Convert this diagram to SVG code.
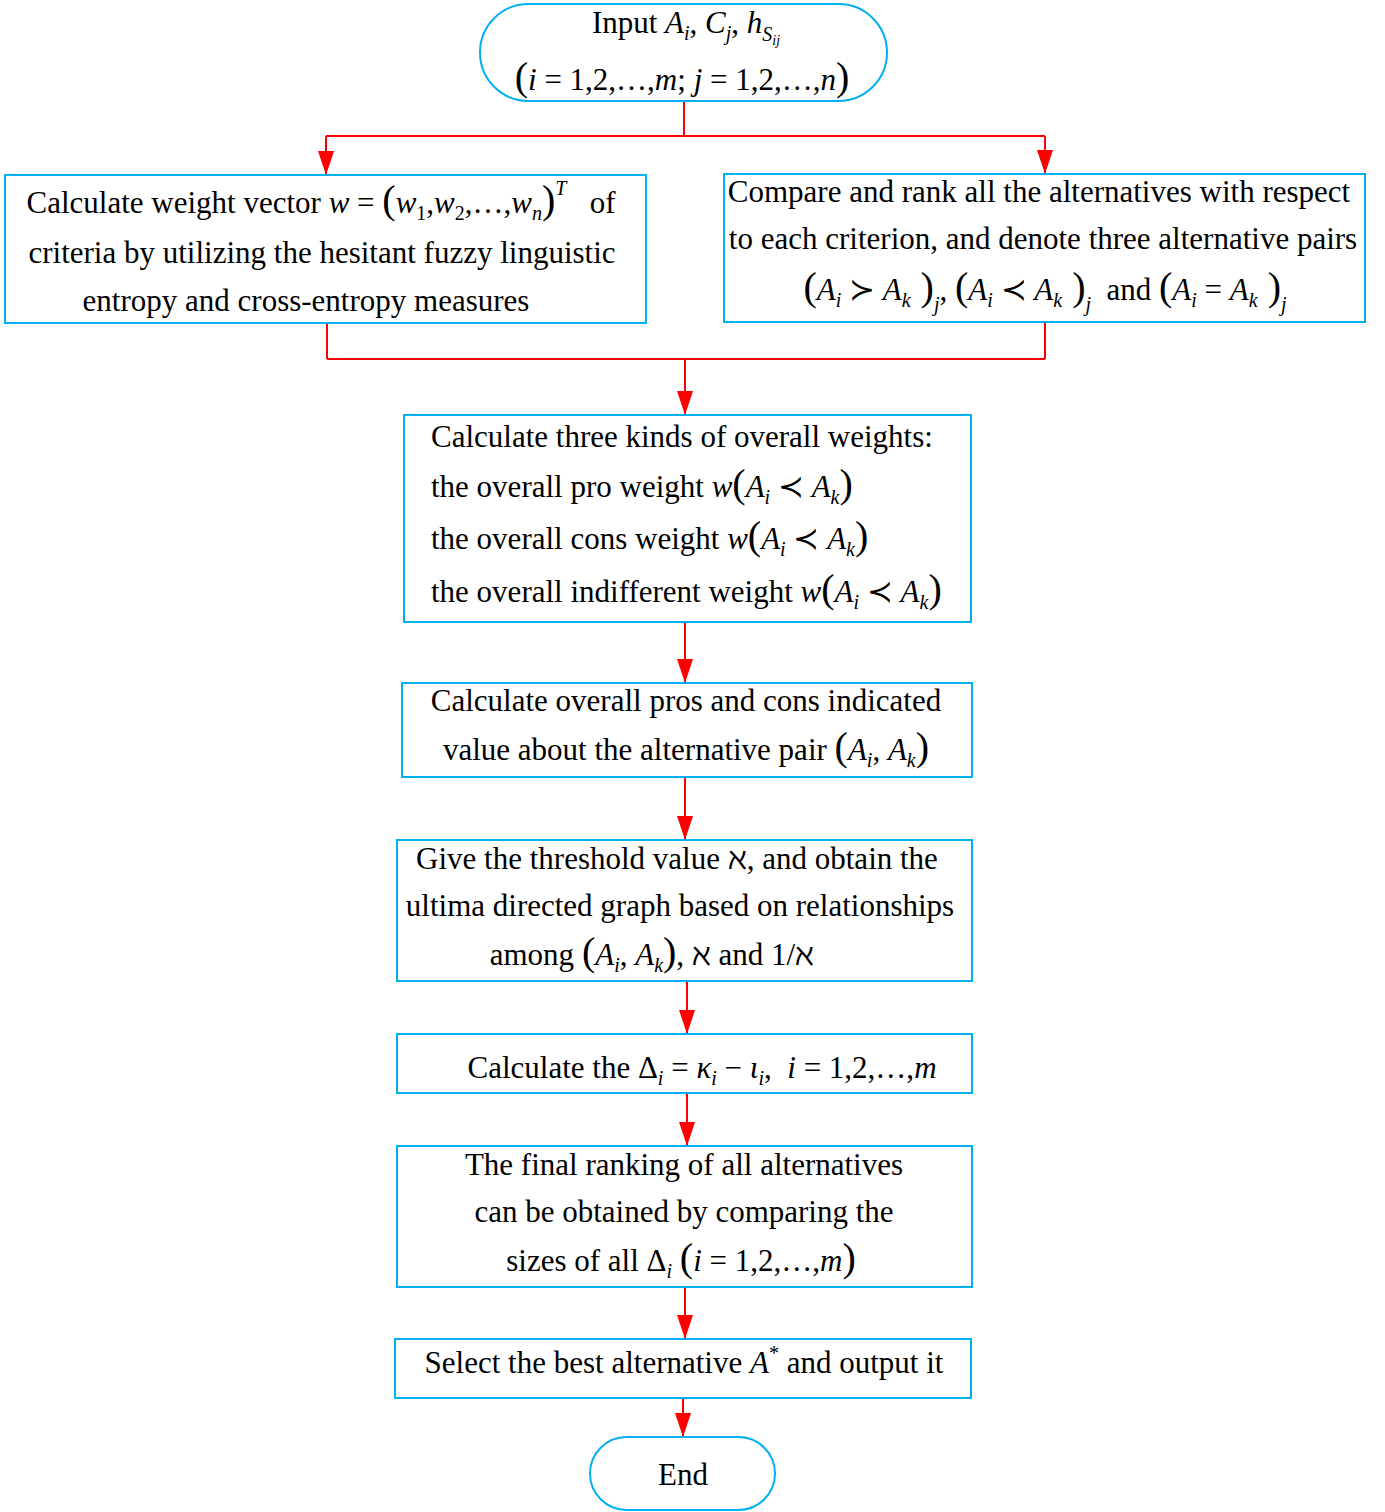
<svg xmlns="http://www.w3.org/2000/svg" width="1385" height="1512" viewBox="0 0 1385 1512">
<style>
.box{fill:#fff;stroke:#00B0F0;stroke-width:2}
.t{font-family:"Liberation Serif","Times New Roman","DejaVu Serif",serif;font-size:31px;fill:#000}
.i{font-style:italic}
.s{font-size:20px}
.ss{font-size:14px}
.p{font-size:40px}
.c{fill:none;stroke:#FF0000;stroke-width:2}
</style>
<defs>
<marker id="ah" viewBox="0 0 24 16" refX="24" refY="8" markerWidth="24" markerHeight="16" markerUnits="userSpaceOnUse" orient="auto">
<path d="M0,0 L24,8 L0,16 z" fill="#FF0000"/>
</marker>
</defs>
<rect width="1385" height="1512" fill="#fff"/>

<g id="connectors">
<path class="c" d="M684,101 V136 M326,136 H1045"/>
<path class="c" d="M326,136 V175" marker-end="url(#ah)"/>
<path class="c" d="M1045,136 V174" marker-end="url(#ah)"/>
<path class="c" d="M327,323 V359 M1045,322 V359 M327,359 H1045"/>
<path class="c" d="M685,359 V415" marker-end="url(#ah)"/>
<path class="c" d="M685,622 V683" marker-end="url(#ah)"/>
<path class="c" d="M685,777 V840" marker-end="url(#ah)"/>
<path class="c" d="M687,981 V1034" marker-end="url(#ah)"/>
<path class="c" d="M687,1093 V1146" marker-end="url(#ah)"/>
<path class="c" d="M685,1287 V1339" marker-end="url(#ah)"/>
<path class="c" d="M683,1398 V1437" marker-end="url(#ah)"/>
</g>

<g id="start">
<rect class="box" x="480" y="4" width="407" height="97" rx="48.5" ry="48.5"/>
<text class="t" x="686" y="33" text-anchor="middle">Input <tspan class="i">A</tspan><tspan class="s i" dy="7">i</tspan><tspan dy="-7">, </tspan><tspan class="i">C</tspan><tspan class="s i" dy="7">j</tspan><tspan dy="-7">, </tspan><tspan class="i">h</tspan><tspan class="s i" dy="8">S</tspan><tspan class="ss i" dy="4">ij</tspan></text>
<text class="t" x="682" y="90" text-anchor="middle"><tspan class="p">(</tspan><tspan class="i">i</tspan> = 1,2,…,<tspan class="i">m</tspan>; <tspan class="i">j</tspan> = 1,2,…,<tspan class="i">n</tspan><tspan class="p">)</tspan></text>
</g>

<g id="weight">
<rect class="box" x="5" y="175" width="641" height="148"/>
<text class="t" x="321" y="213" text-anchor="middle">Calculate weight vector <tspan class="i">w</tspan> = <tspan class="p">(</tspan><tspan class="i">w</tspan><tspan class="s" dy="7">1</tspan><tspan dy="-7">,</tspan><tspan class="i">w</tspan><tspan class="s" dy="7">2</tspan><tspan dy="-7">,…,</tspan><tspan class="i">w</tspan><tspan class="s i" dy="7">n</tspan><tspan class="p" dy="-7">)</tspan><tspan class="s i" dy="-18">T</tspan><tspan dy="18">&#160;&#160; of</tspan></text>
<text class="t" x="322" y="263" text-anchor="middle">criteria by utilizing the hesitant fuzzy linguistic</text>
<text class="t" x="306" y="311" text-anchor="middle">entropy and cross-entropy measures</text>
</g>

<g id="compare">
<rect class="box" x="724" y="174" width="641" height="148"/>
<text class="t" x="1039" y="202" text-anchor="middle">Compare and rank all the alternatives with respect</text>
<text class="t" x="1043" y="249" text-anchor="middle">to each criterion, and denote three alternative pairs</text>
<text class="t" x="1045" y="300" text-anchor="middle"><tspan class="p">(</tspan><tspan class="i">A</tspan><tspan class="s i" dy="7">i</tspan><tspan dy="-7"> ≻ </tspan><tspan class="i">A</tspan><tspan class="s i" dy="7">k</tspan><tspan class="p" dy="-7"> )</tspan><tspan class="s i" dy="11">j</tspan><tspan dy="-11">, </tspan><tspan class="p">(</tspan><tspan class="i">A</tspan><tspan class="s i" dy="7">i</tspan><tspan dy="-7"> ≺ </tspan><tspan class="i">A</tspan><tspan class="s i" dy="7">k</tspan><tspan class="p" dy="-7"> )</tspan><tspan class="s i" dy="11">j</tspan><tspan dy="-11">&#160; and </tspan><tspan class="p">(</tspan><tspan class="i">A</tspan><tspan class="s i" dy="7">i</tspan><tspan dy="-7"> = </tspan><tspan class="i">A</tspan><tspan class="s i" dy="7">k</tspan><tspan class="p" dy="-7"> )</tspan><tspan class="s i" dy="11">j</tspan></text>
</g>

<g id="overall">
<rect class="box" x="404" y="415" width="567" height="207"/>
<text class="t" x="431" y="447">Calculate three kinds of overall weights:</text>
<text class="t" x="431" y="497">the overall pro weight <tspan class="i">w</tspan><tspan class="p">(</tspan><tspan class="i">A</tspan><tspan class="s i" dy="7">i</tspan><tspan dy="-7"> ≺ </tspan><tspan class="i">A</tspan><tspan class="s i" dy="7">k</tspan><tspan class="p" dy="-7">)</tspan></text>
<text class="t" x="431" y="549">the overall cons weight <tspan class="i">w</tspan><tspan class="p">(</tspan><tspan class="i">A</tspan><tspan class="s i" dy="7">i</tspan><tspan dy="-7"> ≺ </tspan><tspan class="i">A</tspan><tspan class="s i" dy="7">k</tspan><tspan class="p" dy="-7">)</tspan></text>
<text class="t" x="431" y="602">the overall indifferent weight <tspan class="i">w</tspan><tspan class="p">(</tspan><tspan class="i">A</tspan><tspan class="s i" dy="7">i</tspan><tspan dy="-7"> ≺ </tspan><tspan class="i">A</tspan><tspan class="s i" dy="7">k</tspan><tspan class="p" dy="-7">)</tspan></text>
</g>

<g id="proscons">
<rect class="box" x="402" y="683" width="570" height="94"/>
<text class="t" x="686" y="711" text-anchor="middle">Calculate overall pros and cons indicated</text>
<text class="t" x="686" y="760" text-anchor="middle">value about the alternative pair <tspan class="p">(</tspan><tspan class="i">A</tspan><tspan class="s i" dy="7">i</tspan><tspan dy="-7">, </tspan><tspan class="i">A</tspan><tspan class="s i" dy="7">k</tspan><tspan class="p" dy="-7">)</tspan></text>
</g>

<g id="threshold">
<rect class="box" x="397" y="840" width="575" height="141"/>
<text class="t" x="677" y="869" text-anchor="middle">Give the threshold value ℵ, and obtain the</text>
<text class="t" x="680" y="916" text-anchor="middle">ultima directed graph based on relationships</text>
<text class="t" x="652" y="965" text-anchor="middle">among <tspan class="p">(</tspan><tspan class="i">A</tspan><tspan class="s i" dy="7">i</tspan><tspan dy="-7">, </tspan><tspan class="i">A</tspan><tspan class="s i" dy="7">k</tspan><tspan class="p" dy="-7">)</tspan>, ℵ and 1/ℵ</text>
</g>

<g id="delta">
<rect class="box" x="397" y="1034" width="575" height="59"/>
<text class="t" x="702" y="1078" text-anchor="middle">Calculate the Δ<tspan class="s i" dy="7">i</tspan><tspan dy="-7"> = </tspan><tspan class="i">κ</tspan><tspan class="s i" dy="7">i</tspan><tspan dy="-7"> − </tspan><tspan class="i">ι</tspan><tspan class="s i" dy="7">i</tspan><tspan dy="-7">,&#160; </tspan><tspan class="i">i</tspan> = 1,2,…,<tspan class="i">m</tspan></text>
</g>

<g id="ranking">
<rect class="box" x="397" y="1146" width="575" height="141"/>
<text class="t" x="684" y="1175" text-anchor="middle">The final ranking of all alternatives</text>
<text class="t" x="684" y="1222" text-anchor="middle">can be obtained by comparing the</text>
<text class="t" x="681" y="1271" text-anchor="middle">sizes of all Δ<tspan class="s i" dy="7">i</tspan><tspan dy="-7"> </tspan><tspan class="p">(</tspan><tspan class="i">i</tspan> = 1,2,…,<tspan class="i">m</tspan><tspan class="p">)</tspan></text>
</g>

<g id="select">
<rect class="box" x="395" y="1339" width="576" height="59"/>
<text class="t" x="684" y="1373" text-anchor="middle">Select the best alternative <tspan class="i">A</tspan><tspan class="s" dy="-13">*</tspan><tspan dy="13"> and output it</tspan></text>
</g>

<g id="end">
<rect class="box" x="590" y="1437" width="185" height="73" rx="36.5" ry="36.5"/>
<text class="t" x="683" y="1485" text-anchor="middle">End</text>
</g>
</svg>
